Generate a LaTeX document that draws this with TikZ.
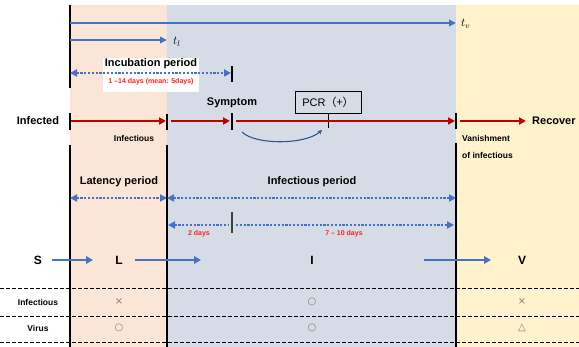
\documentclass[tikz,border=0pt]{standalone}
\usepackage{fontspec}
\setmainfont{Liberation Sans}
\newfontfamily\cjkfont{Noto Sans CJK JP}
\newfontfamily\symfont{DejaVu Sans}
\usetikzlibrary{arrows.meta}
\definecolor{bluearr}{HTML}{4472C4}
\definecolor{redarr}{HTML}{C00000}
\definecolor{redtxt}{HTML}{FF2020}
\definecolor{pinkbg}{HTML}{FBE5D6}
\definecolor{graybg}{HTML}{D6DCE5}
\definecolor{yellowbg}{HTML}{FFF2CC}
\definecolor{curvecol}{HTML}{2F5597}
\definecolor{symcol}{HTML}{808080}
\tikzset{dottip/.tip={Triangle[length=7pt,width=7pt]}}
\begin{document}
\begin{tikzpicture}[x=1pt,y=-1pt,
  lbl/.style={font=\bfseries\fontsize{11}{12}\selectfont, inner sep=0pt},
  smalllbl/.style={font=\bfseries\fontsize{8.5}{9}\selectfont, inner sep=0pt},
  redlbl/.style={font=\bfseries\fontsize{7}{8}\selectfont, text=redtxt, inner sep=0pt},
  symlbl/.style={font=\symfont\fontsize{10}{11}\selectfont, text=symcol, inner sep=0pt},
  bluearrow/.style={draw=bluearr, line width=2.2pt, -{Triangle[length=7pt,width=7.5pt]}},
  thinblue/.style={draw=bluearr, line width=1.8pt, -{Triangle[length=7pt,width=6.5pt]}},
  dotarrow/.style={draw=bluearr, line width=2.2pt, dash pattern=on 2.2pt off 1.6pt},
  redarrow/.style={draw=redarr, line width=2pt, -{Triangle[length=7pt,width=7pt]}},
  tickline/.style={draw=black, line width=1.5pt},
  vline/.style={draw=black, line width=1.2pt},
  rowline/.style={draw=black, line width=0.9pt, dash pattern=on 4pt off 2pt}]
\useasboundingbox (0,0) rectangle (579,347);
% backgrounds
\fill[pinkbg] (70,5) rectangle (167,347);
\fill[graybg] (167,5) rectangle (456,347);
\fill[yellowbg] (456,5) rectangle (579,347);
% vertical lines
\draw[vline] (70,5) -- (70,88);
\draw[vline] (70,145) -- (70,347);
\draw[vline] (167,145) -- (167,347);
\draw[vline] (456,143) -- (456,347);
% time arrows
\coordinate (tvs) at (70,23);
\coordinate (tve) at (456,23);
\draw[thinblue] (tvs) -- (tve);
\node[anchor=west, inner sep=0pt, font=\fontsize{12}{13}\selectfont] (tv) at (461,24) {$t_v$};
\coordinate (tls) at (70,40);
\coordinate (tle) at (167,40);
\draw[thinblue] (tls) -- (tle);
\node[anchor=west, inner sep=0pt, font=\fontsize{12}{13}\selectfont] (tl) at (173,42) {$t_l$};
% incubation
\fill[white] (103,58) rectangle (199,92);
\coordinate (incs) at (70,73);
\coordinate (ince) at (231,73);
\draw[dotarrow, dottip-dottip] (incs) -- (ince);
\draw[tickline] (232,66) -- (232,82);
\node[lbl] (incl) at (151,64) {Incubation period};
\node[redlbl] (incd) at (151,82) {1 –14 days (mean: 5days)};
% infected row
\draw[tickline] (70,113) -- (70,130);
\draw[tickline] (167,114) -- (167,130);
\draw[tickline] (232,113) -- (232,130);
\draw[tickline] (456,113) -- (456,129);
\draw[draw=black, line width=1pt] (328,113) -- (328,128);
\coordinate (r1s) at (71,121); \coordinate (r1e) at (166,121);
\coordinate (r2s) at (171,121); \coordinate (r2e) at (230,121);
\coordinate (r3s) at (236,121); \coordinate (r3e) at (455,121);
\coordinate (r4s) at (460,121); \coordinate (r4e) at (526,121);
\draw[redarrow] (r1s) -- (r1e);
\draw[redarrow] (r2s) -- (r2e);
\draw[redarrow] (r3s) -- (r3e);
\draw[redarrow] (r4s) -- (r4e);
\node[lbl] (infected) at (38,121) {Infected};
\node[lbl, anchor=west] (recover) at (532,121) {Recover};
\node[lbl] (symptom) at (232,103) {Symptom};
\node[smalllbl] (infectious) at (134,138) {Infectious};
\node[draw=black, line width=0.9pt, fill=graybg, minimum width=66pt, minimum height=22pt, inner sep=0pt, font=\fontsize{11}{12}\selectfont] (pcr) at (328,102) {PCR{\cjkfont （+）}};
\node[smalllbl, anchor=west] (van1) at (462,138) {Vanishment};
\node[smalllbl, anchor=west] (van2) at (462,155) {of infectious};
\coordinate (cs) at (242,132);
\coordinate (ce) at (322,130);
\draw[draw=curvecol, line width=1.1pt, -{Stealth[length=4.5pt,width=4.5pt]}] (cs) .. controls (255,145) and (305,145) .. (ce);
% periods
\node[lbl] (latency) at (119,182) {Latency period};
\node[lbl] (infper) at (312,182) {Infectious period};
\coordinate (p1) at (70,198); \coordinate (p2) at (167,198); \coordinate (p3) at (456,198);
\draw[dotarrow, dottip-dottip] (p1) -- (p2);
\draw[dotarrow, dottip-dottip] (p2) -- (p3);
\coordinate (q1) at (168,225); \coordinate (q2) at (229,225);
\coordinate (q3) at (236,225); \coordinate (q4) at (454,225);
\draw[dotarrow, dottip-] (q1) -- (q2);
\draw[dotarrow, -dottip] (q3) -- (q4);
\draw[draw=black!75, line width=1.5pt] (232,212) -- (232,233);
\node[redlbl] (d2) at (199,234) {2 days};
\node[redlbl] (d710) at (344,234) {7 – 10 days};
% SLIV
\node[lbl, font=\bfseries\fontsize{12}{13}\selectfont] (S) at (38,260) {S};
\node[lbl, font=\bfseries\fontsize{12}{13}\selectfont] (L) at (119,260) {L};
\node[lbl, font=\bfseries\fontsize{12}{13}\selectfont] (I) at (312,260) {I};
\node[lbl, font=\bfseries\fontsize{12}{13}\selectfont] (V) at (522,260) {V};
\coordinate (sl1) at (52,260); \coordinate (sl2) at (93,260);
\coordinate (li1) at (135,260); \coordinate (li2) at (201,260);
\coordinate (iv1) at (424,260); \coordinate (iv2) at (491,260);
\draw[bluearrow] (sl1) -- (sl2);
\draw[bluearrow] (li1) -- (li2);
\draw[bluearrow] (iv1) -- (iv2);
% table
\draw[rowline] (0,288) -- (579,288);
\draw[rowline] (0,316) -- (579,316);
\draw[rowline] (0,342) -- (579,342);
\node[smalllbl] (rinf) at (38,302) {Infectious};
\node[smalllbl] (rvir) at (38,328) {Virus};
\node[symlbl] (s11) at (119,302) {×};
\node[symlbl] (s12) at (312,302) {○};
\node[symlbl] (s13) at (522,302) {×};
\node[symlbl] (s21) at (119,328) {○};
\node[symlbl] (s22) at (312,328) {○};
\node[symlbl] (s23) at (522,328) {△};
\end{tikzpicture}
\end{document}
